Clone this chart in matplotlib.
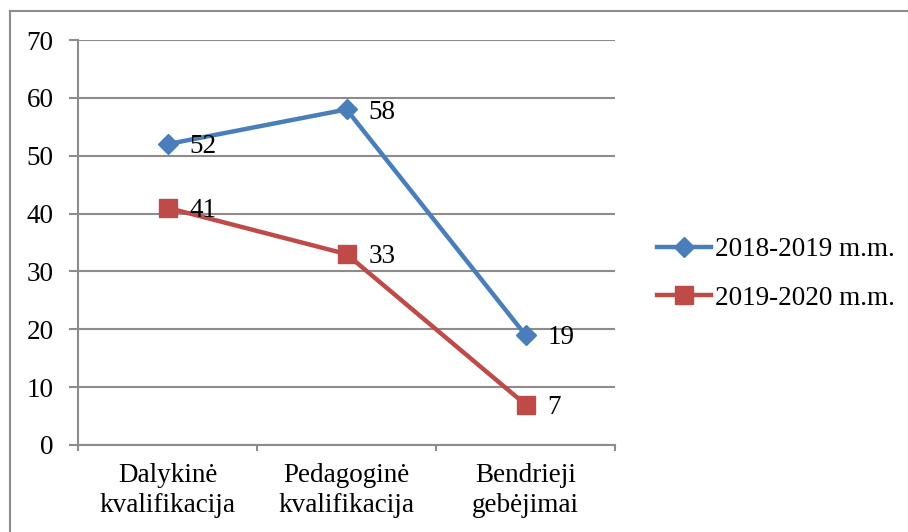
import numpy as np
import matplotlib.pyplot as plt
from matplotlib.lines import Line2D

plt.rcParams['font.family'] = ['Liberation Serif', 'DejaVu Serif']

# data
categories = ['Dalykinė\nkvalifikacija', 'Pedagoginė\nkvalifikacija', 'Bendrieji\ngebėjimai']
series_2018 = [52, 58, 19]
series_2020 = [41, 33, 7]
labels = ['2018-2019 m.m.', '2019-2020 m.m.']

blue = '#4A7EBB'
red = '#BE4B48'
grey = '#8C8C8C'
fs = 19.5

fig = plt.figure(figsize=(9.08, 5.32), dpi=100)
ax = fig.add_axes([78 / 908, 87 / 532, 537 / 908, 405 / 532])

x = np.arange(len(categories))
ax.plot(x, series_2018, color=blue, lw=3.2, marker='D', ms=10, mfc=blue, mec=blue, zorder=3)
ax.plot(x, series_2020, color=red, lw=3.2, marker='s', ms=13, mfc=red, mec=red, zorder=3)

for xi, v in zip(x, series_2018):
    ax.annotate(str(v), (xi, v), xytext=(16, -2), textcoords='offset points',
                ha='left', va='center', fontsize=fs)
for xi, v in zip(x, series_2020):
    ax.annotate(str(v), (xi, v), xytext=(16, -2), textcoords='offset points',
                ha='left', va='center', fontsize=fs)

ax.set_xlim(-0.5, 2.5)
ax.set_ylim(0, 70)
ax.set_yticks(range(0, 71, 10))
ax.yaxis.grid(True, color=grey, lw=1.5)
ax.set_axisbelow(True)

ax.set_xticks(x)
ax.set_xticklabels(categories, fontsize=fs, linespacing=1.25)
ax.set_xticks([-0.5, 0.5, 1.5, 2.5], minor=True)
ax.tick_params(axis='x', which='major', length=0, pad=13)
ax.tick_params(axis='x', which='minor', length=4.5, width=1.5, color=grey, direction='out')
ax.tick_params(axis='y', length=6.5, width=1.5, color=grey, labelsize=fs, pad=11)

for s in ['top', 'right']:
    ax.spines[s].set_visible(False)
for s in ['left', 'bottom']:
    ax.spines[s].set_color(grey)
    ax.spines[s].set_linewidth(1.5)

# legend
handles = [Line2D([], [], color=blue, lw=3.2, marker='D', ms=10),
           Line2D([], [], color=red, lw=3.2, marker='s', ms=13)]
fig.legend(handles, labels, loc='center left', bbox_to_anchor=(657 / 908, 1 - 274 / 532),
           frameon=False, fontsize=fs, handlelength=2.0, handletextpad=0.15,
           labelspacing=0.85, borderaxespad=0, borderpad=0)

# outer chart border (left and top visible)
fig.add_artist(Line2D([10 / 908, 10 / 908], [0, 1 - 11 / 532], color=grey, lw=1.5,
                      transform=fig.transFigure))
fig.add_artist(Line2D([10 / 908, 1], [1 - 11 / 532, 1 - 11 / 532], color=grey, lw=1.5,
                      transform=fig.transFigure))

plt.savefig('out.png', dpi=100)
